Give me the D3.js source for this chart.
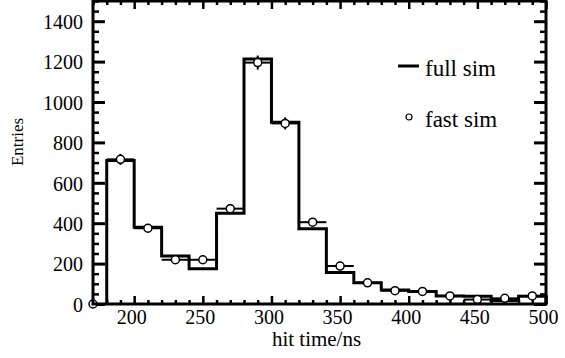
<!DOCTYPE html>
<html>
<head>
<meta charset="utf-8">
<script src="https://cdn.jsdelivr.net/npm/d3@7"></script>
<style>
  body { margin: 0; background: #fff; }
</style>
</head>
<body>
<div id="chart"></div>
<script>
// Data
const binEdges = [180, 200, 220, 240, 260, 280, 300, 320, 340, 360, 380, 400, 420, 440, 460, 480, 500];
const fullSim = [710, 380, 238, 174, 449, 1213, 900, 373, 156, 105, 69, 62, 40, 38, 17, 38];
const fastX = [170, 190, 210, 230, 250, 270, 290, 310, 330, 350, 370, 390, 410, 430, 450, 470, 490];
const fastSim = [0, 716, 375, 219, 219, 472, 1195, 894, 405, 188, 105, 66, 62, 40, 22, 28, 40];
const fastErr = [0, 27, 19, 15, 15, 22, 35, 30, 20, 14, 10, 8, 8, 6, 5, 5, 6];
const xMajor = [200, 250, 300, 350, 400, 450, 500];
const yMajor = [0, 200, 400, 600, 800, 1000, 1200, 1400];
const legendItems = ["full sim", "fast sim"];

const FONT = "'Liberation Serif', 'Times New Roman', serif";
const width = 565;
const height = 358;
const margin = { top: 1, right: 19, bottom: 54, left: 93 };
const w = width - margin.left - margin.right;
const h = height - margin.top - margin.bottom;

const svg = d3.select("#chart")
    .append("svg")
    .attr("width", width)
    .attr("height", height)
    .attr("font-family", FONT)
    .append("g")
    .attr("transform", `translate(${margin.left},${margin.top})`);

const x = d3.scaleLinear().domain([170, 500]).range([0, w]);
const y = d3.scaleLinear().domain([0, 1500]).range([h, 0]);

// minor tick positions
const xMinor = d3.range(170, 501, 10).filter(v => v % 50 !== 0);
const yMinor = d3.range(0, 1501, 50).filter(v => v % 200 !== 0);

function styleAxis(g, sw) {
    g.attr("font-family", FONT);
    g.select(".domain").remove();
    g.selectAll(".tick line").attr("stroke", "#000").attr("stroke-width", sw);
    g.selectAll(".tick text").attr("fill", "#000").attr("font-family", FONT);
}

// bottom axis
svg.append("g")
    .attr("transform", `translate(0,${h})`)
    .call(d3.axisBottom(x).tickValues(xMinor).tickSize(-4).tickFormat(""))
    .call(g => styleAxis(g, 2.5));
svg.append("g")
    .attr("transform", `translate(0,${h})`)
    .call(d3.axisBottom(x).tickValues(xMajor).tickSize(-8).tickPadding(4).tickFormat(d3.format("d")))
    .call(g => styleAxis(g, 2.5))
    .call(g => g.selectAll("text")
        .attr("font-size", "20px")
        .attr("dx", -3)
        .attr("dy", "0.78em"));

// top axis
svg.append("g")
    .call(d3.axisTop(x).tickValues(xMinor).tickSize(-4).tickFormat(""))
    .call(g => styleAxis(g, 2.5));
svg.append("g")
    .call(d3.axisTop(x).tickValues(xMajor).tickSize(-8).tickFormat(""))
    .call(g => styleAxis(g, 2.5));

// left axis
svg.append("g")
    .call(d3.axisLeft(y).tickValues(yMinor).tickSize(-6).tickFormat(""))
    .call(g => styleAxis(g, 2.5));
svg.append("g")
    .call(d3.axisLeft(y).tickValues(yMajor).tickSize(-12).tickPadding(10).tickFormat(d3.format("d")))
    .call(g => styleAxis(g, 3))
    .call(g => g.selectAll("text")
        .attr("font-size", "20px")
        .attr("dy", "0.36em"));

// right axis
svg.append("g")
    .attr("transform", `translate(${w},0)`)
    .call(d3.axisRight(y).tickValues(yMinor).tickSize(-6).tickFormat(""))
    .call(g => styleAxis(g, 2.5));
svg.append("g")
    .attr("transform", `translate(${w},0)`)
    .call(d3.axisRight(y).tickValues(yMajor).tickSize(-12).tickFormat(""))
    .call(g => styleAxis(g, 3));

// full sim histogram as a step outline
const steps = [[binEdges[0], 0]];
fullSim.forEach((v, i) => {
    steps.push([binEdges[i], v]);
    steps.push([binEdges[i + 1], v]);
});
steps.push([binEdges[binEdges.length - 1], 0]);

svg.append("path")
    .datum(steps)
    .attr("fill", "none")
    .attr("stroke", "#000")
    .attr("stroke-width", 3)
    .attr("d", d3.line().x(d => x(d[0])).y(d => y(d[1])));

// fast sim points with error bars
const pts = fastX.map((c, i) => ({ c: c, v: fastSim[i], e: fastErr[i] }));

const pg = svg.append("g");
pg.selectAll(".hbar")
    .data(pts.filter(d => d.c > 170))
    .enter().append("line")
    .attr("x1", d => x(d.c - 10))
    .attr("x2", d => x(d.c + 10))
    .attr("y1", d => y(d.v))
    .attr("y2", d => y(d.v))
    .attr("stroke", "#000")
    .attr("stroke-width", 2);
pg.selectAll(".vbar")
    .data(pts)
    .enter().append("line")
    .attr("x1", d => x(d.c))
    .attr("x2", d => x(d.c))
    .attr("y1", d => y(d.v - d.e))
    .attr("y2", d => y(d.v + d.e))
    .attr("stroke", "#000")
    .attr("stroke-width", 2);
pg.selectAll("circle")
    .data(pts)
    .enter().append("circle")
    .attr("cx", d => x(d.c))
    .attr("cy", d => y(d.v))
    .attr("r", 4)
    .attr("fill", "#fff")
    .attr("stroke", "#000")
    .attr("stroke-width", 1.5);

// frame
svg.append("rect")
    .attr("x", 0)
    .attr("y", 0)
    .attr("width", w)
    .attr("height", h)
    .attr("fill", "none")
    .attr("stroke", "#000")
    .attr("stroke-width", 3);

// axis titles
svg.append("text")
    .attr("x", w / 2 - 3)
    .attr("y", h + 42)
    .attr("text-anchor", "middle")
    .attr("font-size", "21px")
    .text("hit time/ns");

svg.append("text")
    .attr("transform", `translate(${22.5 - margin.left},${142 - margin.top}) rotate(-90)`)
    .attr("text-anchor", "middle")
    .attr("font-size", "17px")
    .text("Entries");

// legend
const lg = svg.append("g").attr("transform", `translate(${398 - margin.left},0)`);
lg.append("line")
    .attr("x1", 0).attr("x2", 21)
    .attr("y1", 65).attr("y2", 65)
    .attr("stroke", "#000")
    .attr("stroke-width", 3);
lg.append("circle")
    .attr("cx", 11).attr("cy", 116)
    .attr("r", 3)
    .attr("fill", "#fff")
    .attr("stroke", "#000")
    .attr("stroke-width", 1.2);
lg.selectAll(".lt")
    .data(legendItems)
    .enter().append("text")
    .attr("x", 27)
    .attr("y", (d, i) => 75 + i * 51)
    .attr("font-size", "23px")
    .text(d => d);
</script>
</body>
</html>
